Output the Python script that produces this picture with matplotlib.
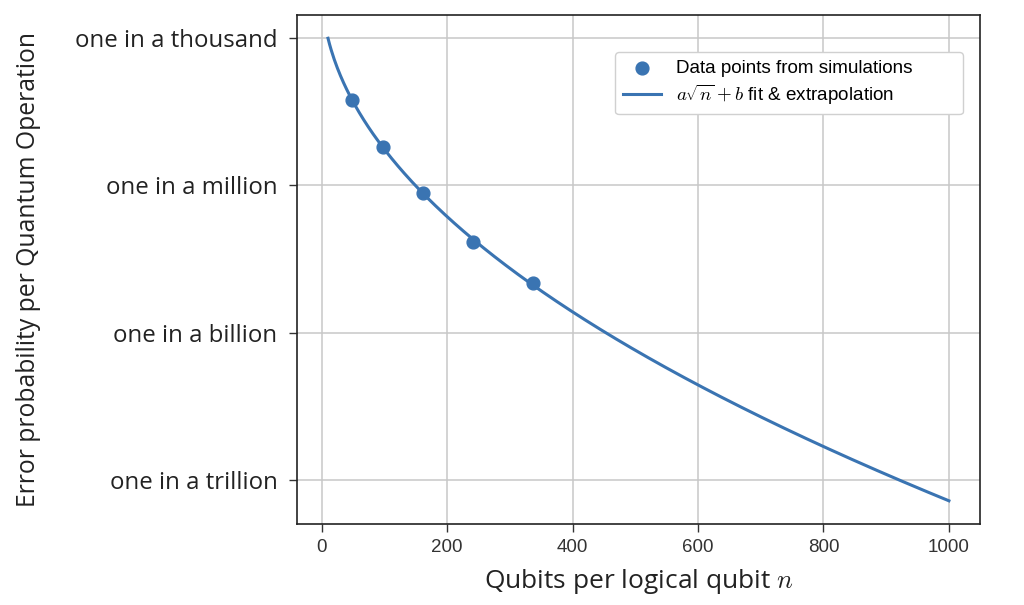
import numpy as np
import matplotlib
matplotlib.use("Agg")
import matplotlib.pyplot as plt
from matplotlib import font_manager

# qubits per logical qubit (2d^2 - 1 for d = 5..13) and simulated error rates
qubits = [49, 97, 161, 241, 337]
error_prob = [5.3e-5, 6.1e-6, 6.9e-7, 7.1e-8, 1.0e-8]

# extrapolation range of the fit
n_min, n_max = 10, 1000

ytick_vals = [1e-3, 1e-6, 1e-9, 1e-12]
ytick_labels = ["one in a thousand", "one in a million", "one in a billion", "one in a trillion"]
xtick_vals = [0, 200, 400, 600, 800, 1000]

blue = '#3a74b2'

def pick(names):
    have = {f.name for f in font_manager.fontManager.ttflist}
    for n in names:
        if n in have:
            return n
    return 'DejaVu Sans'

label_font = pick(['Open Sans', 'Lato', 'Noto Sans'])
tick_font = pick(['Liberation Sans', 'DejaVu Sans'])
legend_font = pick(['Liberation Sans', 'DejaVu Sans'])

plt.rcParams['mathtext.fontset'] = 'cm'

# fit log10(p) = a*sqrt(n) + b
a, b = np.polyfit(np.sqrt(qubits), np.log10(error_prob), 1)
n_fit = np.linspace(n_min, n_max, 400)
p_fit = 10 ** (a * np.sqrt(n_fit) + b)

fig = plt.figure(figsize=(10.24, 6.05), dpi=100)
ax = fig.add_axes([0.290, 0.134, 0.667, 0.841])

ax.scatter(qubits, error_prob, s=85, color=blue, zorder=3, label="Data points from simulations")
ax.plot(n_fit, p_fit, color=blue, lw=2.2, zorder=2, label=r"$a\sqrt{n}+b$ fit & extrapolation")
ax.set_yscale('log')

ax.set_yticks(ytick_vals)
ax.set_yticklabels(ytick_labels, fontname=label_font, fontsize=17.3, color='#222222')
ax.yaxis.set_minor_locator(matplotlib.ticker.NullLocator())
ax.set_xticks(xtick_vals)
ax.set_xticklabels([str(v) for v in xtick_vals], fontname=tick_font, fontsize=13.5, color='#333333')
ax.tick_params(axis='both', length=6, width=1, color='#333333')
ax.tick_params(axis='y', pad=8)
ax.tick_params(axis='x', pad=5)

ax.grid(True, color='#c8c8c8', lw=1.1)
ax.set_axisbelow(True)
for s in ax.spines.values():
    s.set_color('#222222')
    s.set_linewidth(1.2)

ax.set_xlabel(r"Qubits per logical qubit $n$", fontname=label_font, fontsize=19, color='#222222', labelpad=8)
ax.set_ylabel("Error probability per Quantum Operation", fontname=label_font, fontsize=17.8, color='#222222')
ax.yaxis.set_label_coords(-0.375, 0.5)

leg = ax.legend(loc='upper left', bbox_to_anchor=(0.466, 0.0, 0.509, 0.927), mode='expand', borderaxespad=0,
                prop={'family': legend_font, 'size': 13.6},
                frameon=True, fancybox=True, framealpha=1, edgecolor='#d0d0d0', borderpad=0.4,
                handlelength=2.0, labelspacing=0.3, handletextpad=0.8)

fig.savefig('out.png', dpi=100)
